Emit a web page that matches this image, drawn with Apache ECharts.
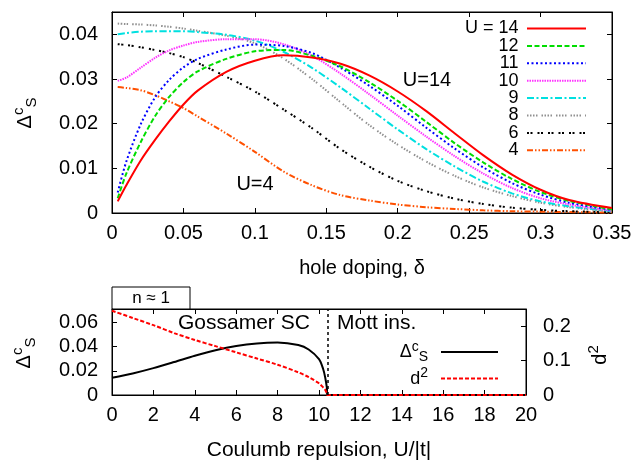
<!DOCTYPE html>
<html>
<head>
<meta charset="utf-8">
<script src="https://cdn.jsdelivr.net/npm/echarts@6/dist/echarts.min.js"></script>
<style>
  html, body { margin: 0; padding: 0; background: #fff; }
  #chart { width: 638px; height: 462px; }
</style>
</head>
<body>
<div id="chart"></div>
<script>
  // top panel: gap vs hole doping, one curve per U
  var deltaVals = [0.004, 0.01, 0.02, 0.03, 0.04, 0.05, 0.06, 0.08, 0.10, 0.12, 0.14,
                   0.16, 0.18, 0.20, 0.22, 0.24, 0.26, 0.28, 0.30, 0.32, 0.35];
  var gapU14 = [0.0026, 0.0062, 0.0117, 0.0163, 0.0205, 0.0243, 0.0274, 0.0316, 0.0341, 0.0353, 0.0348,
                0.0334, 0.0308, 0.0272, 0.0228, 0.0178, 0.0129, 0.0086, 0.0052, 0.0029, 0.0011];
  var gapU12 = [0.0033, 0.0088, 0.0158, 0.0216, 0.0260, 0.0293, 0.0317, 0.0345, 0.0362, 0.0365, 0.0352,
                0.0328, 0.0293, 0.0251, 0.0204, 0.0156, 0.0113, 0.0076, 0.0047, 0.0027, 0.0008];
  var gapU11 = [0.0046, 0.0115, 0.0198, 0.0258, 0.0298, 0.0326, 0.0345, 0.0366, 0.0377, 0.0374, 0.0358,
                0.0325, 0.0285, 0.0240, 0.0191, 0.0144, 0.0102, 0.0067, 0.0041, 0.0023, 0.0007];
  var gapU10 = [0.0296, 0.0303, 0.0325, 0.0347, 0.0364, 0.0375, 0.0383, 0.0389, 0.0389, 0.0378, 0.0352,
                0.0312, 0.0266, 0.0218, 0.0171, 0.0127, 0.0088, 0.0056, 0.0033, 0.0019, 0.0005];
  var gapU9  = [0.0400, 0.0403, 0.0406, 0.0407, 0.0407, 0.0407, 0.0405, 0.0399, 0.0386, 0.0361, 0.0325,
                0.0281, 0.0234, 0.0187, 0.0143, 0.0104, 0.0070, 0.0044, 0.0026, 0.0015, 0.0004];
  var gapU8  = [0.0424, 0.0423, 0.0422, 0.0420, 0.0417, 0.0413, 0.0408, 0.0397, 0.0380, 0.0346, 0.0300,
                0.0248, 0.0197, 0.0153, 0.0115, 0.0083, 0.0057, 0.0038, 0.0023, 0.0013, 0.0003];
  var gapU6  = [0.0378, 0.0376, 0.0371, 0.0365, 0.0358, 0.0349, 0.0336, 0.0305, 0.0272, 0.0232, 0.0190,
                0.0143, 0.0104, 0.0072, 0.0049, 0.0032, 0.0020, 0.0012, 0.0007, 0.0004, 0.0002];
  var gapU4  = [0.0282, 0.0280, 0.0275, 0.0264, 0.0250, 0.0235, 0.0216, 0.0178, 0.0137, 0.0093, 0.0062,
                0.0040, 0.0028, 0.0019, 0.0013, 0.0009, 0.0006, 0.0004, 0.0003, 0.0002, 0.0001];
  var uLabels = ['U = 14', '12', '11', '10', '9', '8', '6', '4'];

  // bottom panel: n ~ 1, gap and d^2 vs U
  var uVals    = [0, 1, 2, 3, 4, 5, 6, 7, 8, 9, 9.5, 10, 10.2, 10.3, 10.38, 10.4, 11, 12, 14, 16, 18, 20];
  var gapHalf  = [0.0142, 0.0178, 0.0222, 0.0272, 0.0324, 0.0370, 0.0405, 0.0426, 0.0433, 0.0412, 0.0376,
                  0.0296, 0.0215, 0.0145, 0.0060, 0, 0, 0, 0, 0, 0, 0];
  var dSquared = [0.245, 0.224, 0.203, 0.180, 0.160, 0.142, 0.124, 0.106, 0.088, 0.066, 0.052,
                  0.034, 0.022, 0.015, 0.005, 0, 0, 0, 0, 0, 0, 0];
  var transitionU = 10.4;

  var FONT = '"Liberation Sans", Arial, Helvetica, sans-serif';

  function pairs(xs, ys) {
    return xs.map(function (x, i) { return [x, ys[i]]; });
  }

  var curves = [
    { data: gapU14, color: '#ff0000', dash: 'solid' },
    { data: gapU12, color: '#00dd00', dash: [5, 2.5] },
    { data: gapU11, color: '#0000ff', dash: [2, 2.5] },
    { data: gapU10, color: '#ff33ff', dash: [1.5, 1] },
    { data: gapU9,  color: '#00e0e0', dash: [7, 2.5, 2, 2.5] },
    { data: gapU8,  color: '#909090', dash: [1.5, 1.5, 1.5, 1.5, 1.5, 1.5, 1.5, 4] },
    { data: gapU6,  color: '#000000', dash: [2, 1.5, 2, 5] },
    { data: gapU4,  color: '#ff5000', dash: [6, 2, 1.5, 2, 1.5, 2] }
  ];

  var series = curves.map(function (c, i) {
    return {
      name: uLabels[i],
      type: 'line',
      xAxisIndex: 0,
      yAxisIndex: 0,
      data: pairs(deltaVals, c.data),
      smooth: 0.3,
      symbol: 'none',
      color: c.color,
      lineStyle: { color: c.color, width: 2, type: c.dash },
      z: 10 - i
    };
  });

  series.push({
    name: 'gap',
    type: 'line',
    xAxisIndex: 2,
    yAxisIndex: 2,
    data: pairs(uVals, gapHalf),
    smooth: 0.3,
    symbol: 'none',
    color: '#000',
    lineStyle: { color: '#000', width: 2 },
    markLine: {
      silent: true,
      symbol: 'none',
      label: { show: false },
      lineStyle: { color: '#000', width: 1.5, type: [3, 3] },
      data: [{ xAxis: transitionU }]
    }
  });
  series.push({
    name: 'd2',
    type: 'line',
    xAxisIndex: 2,
    yAxisIndex: 3,
    data: pairs(uVals, dSquared),
    smooth: 0.3,
    symbol: 'none',
    color: '#ff0000',
    lineStyle: { color: '#ff0000', width: 2, type: [4, 2] },
    z: 3
  });

  function xAx(grid, min, max, step, pos, showLabel, name, nameSize) {
    return {
      gridIndex: grid, type: 'value', min: min, max: max, interval: step, position: pos,
      axisLine: { show: true, onZero: false, lineStyle: { color: '#000', width: 1 } },
      axisTick: { show: true, inside: true, length: 5, lineStyle: { color: '#000' } },
      axisLabel: { show: showLabel, fontSize: 20, color: '#000', fontFamily: FONT, margin: 10 },
      splitLine: { show: false },
      name: name, nameLocation: 'middle', nameGap: 45,
      nameTextStyle: { fontSize: nameSize || 20, color: '#000', fontFamily: FONT }
    };
  }
  function yAx(grid, min, max, step, pos, showLabel, margin) {
    return {
      gridIndex: grid, type: 'value', min: min, max: max, interval: step, position: pos,
      axisLine: { show: true, onZero: false, lineStyle: { color: '#000', width: 1 } },
      axisTick: { show: true, inside: true, length: 5, lineStyle: { color: '#000' } },
      axisLabel: { show: showLabel, showMaxLabel: false, fontSize: 20, color: '#000', fontFamily: FONT, margin: margin },
      splitLine: { show: false }
    };
  }

  var supRich = {
    b: { fontSize: 20, lineHeight: 28, fontFamily: FONT, color: '#000' },
    sup: { fontSize: 15, verticalAlign: 'top', fontFamily: FONT, color: '#000' },
    sub: { fontSize: 15, verticalAlign: 'bottom', fontFamily: FONT, color: '#000' }
  };
  var legRich = {
    b: { fontSize: 18, lineHeight: 24, fontFamily: FONT, color: '#000' },
    sup: { fontSize: 14, verticalAlign: 'top', fontFamily: FONT, color: '#000' },
    sub: { fontSize: 14, verticalAlign: 'bottom', fontFamily: FONT, color: '#000' }
  };

  function label(x, y, text, size, align, rot) {
    return {
      type: 'text', x: x, y: y, rotation: rot || 0, silent: true,
      style: { text: text, fontSize: size, fontFamily: FONT, fill: '#000',
               align: align || 'center', verticalAlign: 'middle', rich: supRich }
    };
  }

  var option = {
    animation: false,
    backgroundColor: '#fff',
    grid: [
      { left: 112, top: 12, width: 500, height: 201, show: true, borderColor: '#000', borderWidth: 1, containLabel: false },
      { left: 112, top: 309, width: 414, height: 88, show: true, borderColor: '#000', borderWidth: 1, containLabel: false }
    ],
    xAxis: [
      xAx(0, 0, 0.35, 0.05, 'bottom', true, 'hole doping, δ', 20),
      xAx(0, 0, 0.35, 0.05, 'top', false, ''),
      xAx(1, 0, 20, 2, 'bottom', true, 'Coulumb repulsion, U/|t|', 21),
      xAx(1, 0, 20, 2, 'top', false, '')
    ],
    yAxis: [
      yAx(0, 0, 0.045, 0.01, 'left', true, 14),
      yAx(0, 0, 0.045, 0.01, 'right', false, 14),
      yAx(1, 0, 0.071, 0.02, 'left', true, 14),
      yAx(1, 0, 0.25, 0.1, 'right', true, 17)
    ],
    legend: [
      {
        data: uLabels, orient: 'vertical', align: 'right', right: 51, top: 19.5, padding: 0,
        itemWidth: 59, itemHeight: 14, itemGap: -0.6, selectedMode: false,
        itemStyle: { opacity: 0 },
        textStyle: { fontSize: 18, lineHeight: 14, color: '#000', fontFamily: FONT, padding: [0, 3.5, 0, 0] }
      },
      {
        data: ['gap', 'd2'], orient: 'vertical', align: 'right', right: 139, top: 340, padding: 0,
        itemWidth: 57, itemHeight: 14, itemGap: 2.6, selectedMode: false,
        itemStyle: { opacity: 0 },
        formatter: function (name) {
          return name === 'gap' ? '{b|Δ}{sup|c}{sub|S}' : '{b|d}{sup|2}';
        },
        textStyle: { fontSize: 18, color: '#000', fontFamily: FONT, padding: [0, 8, 0, 0], rich: legRich }
      }
    ],
    graphic: [
      label(427, 80, 'U=14', 20),
      label(255, 184, 'U=4', 20),
      label(178, 323, 'Gossamer SC', 21, 'left'),
      label(337, 323, 'Mott ins.', 21, 'left'),
      {
        type: 'rect', silent: true,
        shape: { x: 112, y: 287, width: 78, height: 22 },
        style: { fill: '#fff', stroke: '#000', lineWidth: 1 }
      },
      label(151, 298, 'n ≈ 1', 17),
      label(25, 113, '{b|Δ}{sup|c}{sub|S}', 20, 'center', Math.PI / 2),
      label(24, 353, '{b|Δ}{sup|c}{sub|S}', 20, 'center', Math.PI / 2),
      label(600, 355, '{b|d}{sup|2}', 20, 'center', Math.PI / 2)
    ],
    series: series
  };

  var chart = echarts.init(document.getElementById('chart'));
  chart.setOption(option);
</script>
</body>
</html>
